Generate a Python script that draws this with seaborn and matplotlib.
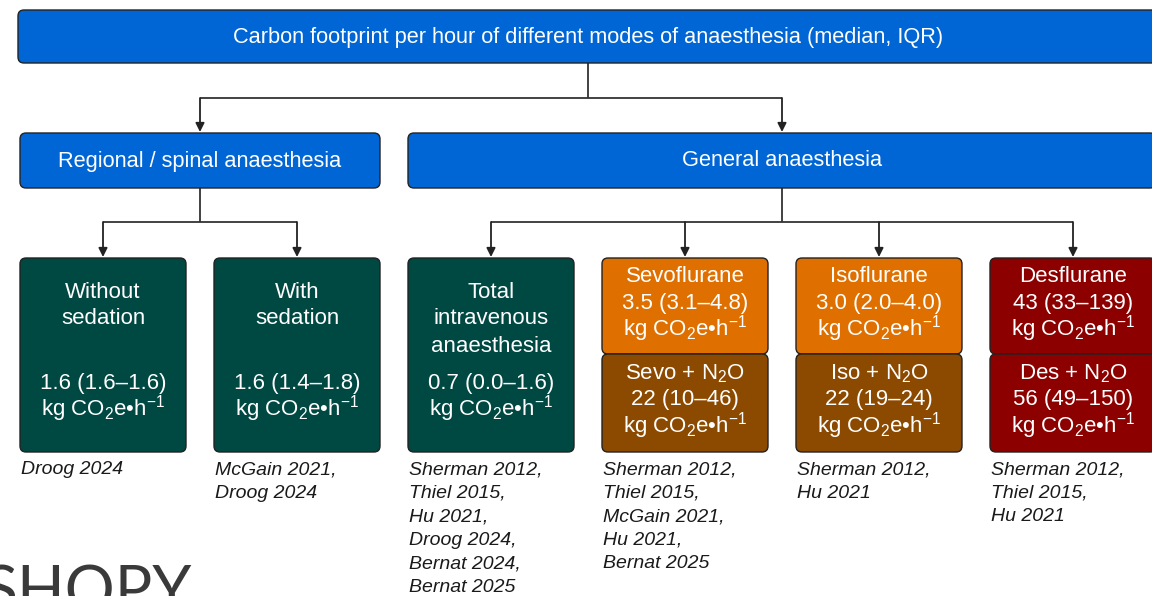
import matplotlib
matplotlib.use("Agg")
import matplotlib.pyplot as plt
import seaborn as sns
from matplotlib.patches import FancyBboxPatch

# ---- data ----
title = "Carbon footprint per hour of different modes of anaesthesia (median, IQR)"
groups = ["Regional / spinal anaesthesia", "General anaesthesia"]
group_of_mode = [0, 0, 1, 1, 1, 1]
modes = ["Without\nsedation", "With\nsedation", "Total\nintravenous\nanaesthesia",
         "Sevoflurane", "Isoflurane", "Desflurane"]
medians = ["1.6 (1.6–1.6)", "1.6 (1.4–1.8)", "0.7 (0.0–1.6)",
           "3.5 (3.1–4.8)", "3.0 (2.0–4.0)", "43 (33–139)"]
n2o_modes = [None, None, None, "Sevo + N$_2$O", "Iso + N$_2$O", "Des + N$_2$O"]
n2o_medians = [None, None, None, "22 (10–46)", "22 (19–24)", "56 (49–150)"]
refs = [
    ["Droog 2024"],
    ["McGain 2021,", "Droog 2024"],
    ["Sherman 2012,", "Thiel 2015,", "Hu 2021,", "Droog 2024,", "Bernat 2024,", "Bernat 2025"],
    ["Sherman 2012,", "Thiel 2015,", "McGain 2021,", "Hu 2021,", "Bernat 2025"],
    ["Sherman 2012,", "Hu 2021"],
    ["Sherman 2012,", "Thiel 2015,", "Hu 2021"],
]
unit = "kg CO$_2$e•h$^{-1}$"

# colours
blue = "#0066d6"
teal = "#004842"
colour_single = [teal, teal, teal, "#df7000", "#df7000", "#8c0000"]
colour_n2o = [None, None, None, "#8c4a00", "#8c4a00", "#8c0000"]

sns.set_theme(style="white")
plt.rcParams["font.family"] = ["Liberation Sans", "DejaVu Sans"]
plt.rcParams["mathtext.fontset"] = "custom"
plt.rcParams["mathtext.rm"] = "Liberation Sans"
plt.rcParams["mathtext.it"] = "Liberation Sans:italic"

fig = plt.figure(figsize=(11.52, 5.96), dpi=100)
ax = fig.add_axes([0, 0, 1, 1])
ax.set_xlim(0, 1152)
ax.set_ylim(596, 0)
ax.axis("off")


def box(x0, y0, w, h, color):
    p = FancyBboxPatch((x0, y0), w, h, boxstyle="round,pad=0,rounding_size=6",
                       facecolor=color, edgecolor="#222222", linewidth=1.0, zorder=2)
    ax.add_patch(p)


def line(xs, ys):
    ax.plot(xs, ys, color="#333333", lw=1.3, zorder=1, solid_capstyle="butt")


def arrow(x, y0, y1):
    ax.annotate("", xy=(x, y1), xytext=(x, y0),
                arrowprops=dict(arrowstyle="-|>", color="#222222", lw=1.3,
                                mutation_scale=13, shrinkA=0, shrinkB=0), zorder=1)


white_txt = dict(color="white", ha="center", va="center", fontsize=16)

# top box
box(18, 10, 1140, 53, blue)
ax.text(588, 38, title, color="white", ha="center", va="center", fontsize=15.7)

# group boxes
group_x = [(20, 360), (408, 748)]
group_cx = [x0 + w / 2 for x0, w in group_x]
for (x0, w), g, cx in zip(group_x, groups, group_cx):
    box(x0, 133, w, 55, blue)
    ax.text(cx, 161, g, color="white", ha="center", va="center", fontsize=15.7)

line([588, 588], [63, 98])
line([group_cx[0], group_cx[1]], [98, 98])
for cx in group_cx:
    arrow(cx, 98, 132)

# mode boxes
col_w, gap, left = 166, 28, 20
col_cx = [left + i * (col_w + gap) + col_w / 2 for i in range(len(modes))]
for gi, cx in enumerate(group_cx):
    kids = [c for c, g in zip(col_cx, group_of_mode) if g == gi]
    line([cx, cx], [188, 222])
    line([kids[0], kids[-1]], [222, 222])
    for k in kids:
        arrow(k, 222, 257)

y_top, y_bot, y_mid = 258, 452, 354
lh = 26
for i, cx in enumerate(col_cx):
    x0 = cx - col_w / 2
    if n2o_modes[i] is None:
        box(x0, y_top, col_w, y_bot - y_top, colour_single[i])
        name_lines = modes[i].split("\n")
        for j, t in enumerate(name_lines):
            ax.text(cx, 292 + j * 27, t, **white_txt)
        ax.text(cx, 383, medians[i], **white_txt)
        ax.text(cx, 409, unit, **white_txt)
    else:
        box(x0, y_top, col_w, y_mid - y_top, colour_single[i])
        box(x0, y_mid, col_w, y_bot - y_mid, colour_n2o[i])
        for j, t in enumerate([modes[i], medians[i], unit]):
            ax.text(cx, 277 + j * lh, t, **white_txt)
        for j, t in enumerate([n2o_modes[i], n2o_medians[i], unit]):
            ax.text(cx, 374 + j * lh, t, **white_txt)
    for j, r in enumerate(refs[i]):
        ax.text(x0 + 1, 470 + j * 23.4, r, ha="left", va="center",
                fontsize=14, style="italic", color="#1a1a1a")

# partial watermark text at bottom left
ax.text(-16, 611, "SHOPY", ha="left", va="baseline", fontsize=45,
        color="#3a3a3a", family=["Lato", "DejaVu Sans"], fontweight="normal",
        clip_on=True)

fig.savefig("out.png", dpi=100)
